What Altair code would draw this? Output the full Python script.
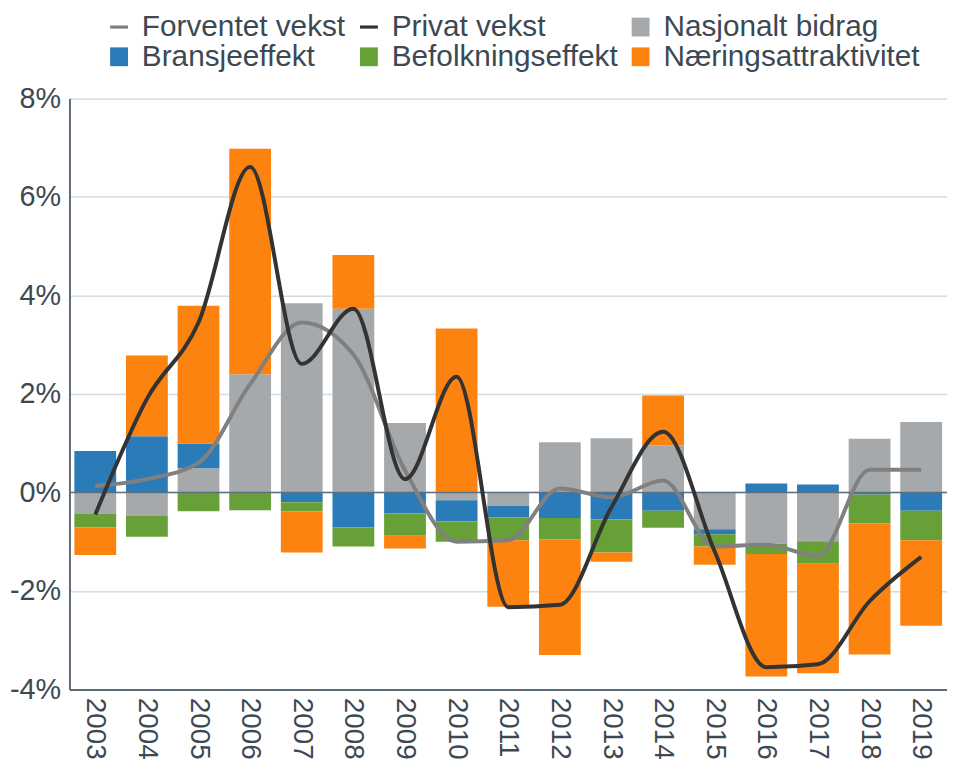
import altair as alt
import pandas as pd

years = [str(y) for y in range(2003, 2020)]

nasjonalt = [-0.43, -0.47, 0.49, 2.40, 3.84, 3.73, 1.41, -0.16, -0.27, 1.02, 1.10, 0.96, -0.75, -1.04, -0.99, 1.09, 1.43]
bransje = [0.84, 1.14, 0.50, 0.0, -0.20, -0.71, -0.43, -0.43, -0.24, -0.52, -0.55, -0.37, -0.10, 0.18, 0.16, -0.04, -0.37]
befolkning = [-0.28, -0.43, -0.38, -0.36, -0.19, -0.39, -0.45, -0.41, -0.46, -0.43, -0.67, -0.35, -0.25, -0.21, -0.46, -0.59, -0.60]
naering = [-0.56, 1.64, 2.80, 4.58, -0.83, 1.09, -0.26, 3.33, -1.35, -2.35, -0.19, 1.01, -0.37, -2.49, -2.22, -2.66, -1.74]

forventet = [0.13, 0.27, 0.60, 2.20, 3.45, 2.80, 0.45, -1.00, -0.97, 0.08, -0.10, 0.24, -1.10, -1.06, -1.29, 0.46, 0.46]
privat = [-0.45, 1.90, 3.45, 6.61, 2.61, 3.73, 0.27, 2.35, -2.33, -2.28, -0.30, 1.23, -1.20, -3.55, -3.49, -2.21, -1.31]

series_names = ["Forventet vekst", "Privat vekst", "Nasjonalt bidrag",
                "Bransjeeffekt", "Befolkningseffekt", "Næringsattraktivitet"]
series_colors = ["#808080", "#333333", "#A6A9AC", "#2B7BB9", "#68A038", "#FD8311"]

dash_path = "M-0.95,-0.17H0.95V0.17H-0.95Z"
box_path = "M-0.95,-1H0.95V1H-0.95Z"
series_shapes = [dash_path, dash_path, box_path, box_path, box_path, box_path]

bar_rows = []
for order, (name, vals) in enumerate([("Nasjonalt bidrag", nasjonalt), ("Bransjeeffekt", bransje),
                                       ("Befolkningseffekt", befolkning), ("Næringsattraktivitet", naering)]):
    for y, v in zip(years, vals):
        bar_rows.append({"year": y, "series": name, "value": v, "ord": order})
bars_df = pd.DataFrame(bar_rows)

line_rows = []
for name, vals in [("Forventet vekst", forventet), ("Privat vekst", privat)]:
    for y, v in zip(years, vals):
        line_rows.append({"year": y, "series": name, "value": v})
lines_df = pd.DataFrame(line_rows)

text_color = "#3C4952"

color_scale = alt.Scale(domain=series_names, range=series_colors)
x_enc = alt.X("year:O", sort=years, title=None,
              scale=alt.Scale(paddingInner=0.19, paddingOuter=0.095),
              axis=alt.Axis(labelAngle=90, labelFontSize=28, labelColor=text_color,
                            labelPadding=8, ticks=False, domainColor="#5B6B77",
                            domainWidth=2, grid=False))
y_scale = alt.Scale(domain=[-4, 8], nice=False)
y_axis = alt.Axis(values=[-4, -2, 0, 2, 4, 6, 8], labelExpr="datum.value + '%'",
                  labelFontSize=29, labelColor=text_color, labelPadding=9, ticks=False,
                  domainColor="#5B6B77", domainWidth=2, gridColor="#D3DCE3", gridWidth=1.5)

legend = alt.Legend(title=None, orient="none", legendX=35, legendY=-87, columns=3,
                    direction="horizontal",
                    columnPadding=8, rowPadding=0, labelOffset=8,
                    labelFontSize=30, labelColor=text_color, labelLimit=500,
                    symbolSize=360, symbolStrokeWidth=0, padding=0)

legend_layer = alt.Chart(lines_df).transform_filter("false").mark_point(filled=True, opacity=1).encode(
    x=x_enc,
    y=alt.Y("value:Q", scale=y_scale, axis=y_axis, title=None),
    color=alt.Color("series:N", scale=color_scale, legend=legend),
    shape=alt.Shape("series:N", scale=alt.Scale(domain=series_names, range=series_shapes), legend=legend),
)

bar_layer = alt.Chart(bars_df).mark_bar().encode(
    x=x_enc,
    y=alt.Y("value:Q", stack="zero", scale=y_scale, axis=y_axis, title=None),
    color=alt.Color("series:N", scale=color_scale, legend=legend),
    order=alt.Order("ord:Q"),
)

zero_layer = alt.Chart(pd.DataFrame({"z": [0]})).mark_rule(color="#5E7080", strokeWidth=1.5).encode(
    y=alt.Y("z:Q", scale=y_scale)
)

line_layer = alt.Chart(lines_df).mark_line(interpolate="monotone", strokeWidth=4).encode(
    x=x_enc,
    y=alt.Y("value:Q", scale=y_scale),
    color=alt.Color("series:N", scale=color_scale, legend=legend),
)

chart = alt.layer(legend_layer, bar_layer, zero_layer, line_layer).properties(
    width=885, height=596,
    autosize=alt.AutoSizeParams(type="none"),
    padding={"left": 62, "top": 88, "right": 0, "bottom": 69},
).configure(font="Liberation Sans").configure_view(stroke=None)

chart.save("out.html", embed_options={"renderer": "svg", "actions": False})
